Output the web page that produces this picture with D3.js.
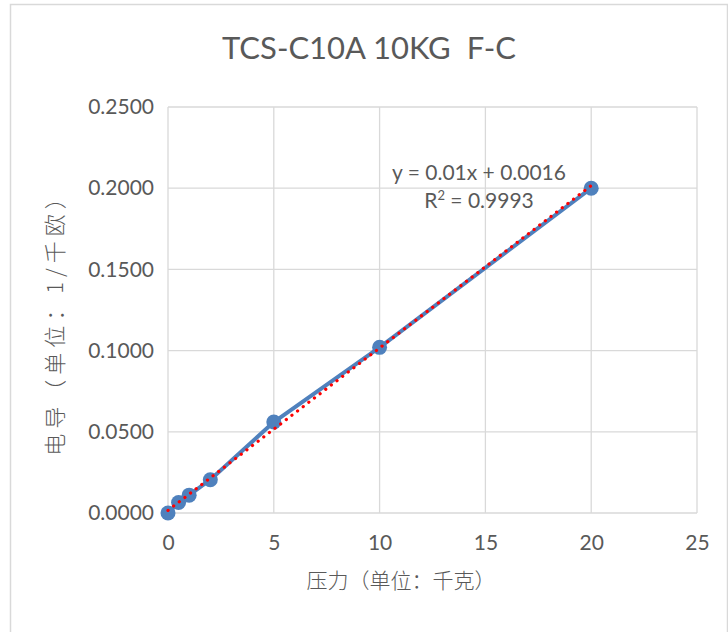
<!DOCTYPE html>
<html><head><meta charset="utf-8">
<script src="https://cdn.jsdelivr.net/npm/d3@7"></script>
<style>
body{margin:0;background:#fff;}
svg{display:block;}
</style></head>
<body>
<svg id="chart" width="728" height="632"></svg>
<script>
const titleText = "TCS-C10A 10KG  F-C";
const xLabel = "压力（单位：千克）";
const yLabel = "电导（单位：1/千欧）";
const pressure = [0, 0.5, 1, 2, 5, 10, 20];
const conductance = [0.0000, 0.0065, 0.0110, 0.0205, 0.0560, 0.1020, 0.2000];
const xTicks = [0, 5, 10, 15, 20, 25];
const yTicks = [0, 0.05, 0.10, 0.15, 0.20, 0.25];
const trendSlope = 0.01;
const trendIntercept = 0.0016;
const eqText = "y = 0.01x + 0.0016";
const r2Value = "0.9993";

const svg = d3.select("#chart");
const latin = "Lato, 'Open Sans', sans-serif";
const cjk = "'Noto Sans CJK SC', sans-serif";
const textCol = "#595959";

// chart border
svg.append("rect").attr("x",10.5).attr("y",4.5).attr("width",717).attr("height",640)
  .attr("fill","#fff").attr("stroke","#d9d9d9").attr("stroke-width",1.5);

const x = d3.scaleLinear().domain([0,25]).range([168,697]);
const y = d3.scaleLinear().domain([0,0.25]).range([513,107]);

// gridlines
svg.append("g").selectAll("line.h").data(yTicks).join("line")
  .attr("x1",x(0)).attr("x2",x(25)).attr("y1",d=>y(d)).attr("y2",d=>y(d))
  .attr("stroke","#d9d9d9").attr("stroke-width",1.3);
svg.append("g").selectAll("line.v").data(xTicks).join("line")
  .attr("x1",d=>x(d)).attr("x2",d=>x(d)).attr("y1",y(0)).attr("y2",y(0.25))
  .attr("stroke","#d9d9d9").attr("stroke-width",1.3);

// axes (labels only)
const yAxis = d3.axisLeft(y).tickValues(yTicks).tickFormat(d3.format(".4f")).tickSize(0).tickPadding(14);
const gy = svg.append("g").attr("transform",`translate(${x(0)},0)`).call(yAxis);
gy.select(".domain").remove();
gy.selectAll("text").attr("font-family",latin).attr("font-size",21).attr("fill",textCol);

const xAxis = d3.axisBottom(x).tickValues(xTicks).tickFormat(d3.format("d")).tickSize(0).tickPadding(22);
const gx = svg.append("g").attr("transform",`translate(0,${y(0)})`).call(xAxis);
gx.select(".domain").remove();
gx.selectAll("text").attr("font-family",latin).attr("font-size",21).attr("fill",textCol);

// series line
const pts = pressure.map((p,i)=>[p,conductance[i]]);
svg.append("path").datum(pts)
  .attr("d", d3.line().x(d=>x(d[0])).y(d=>y(d[1])))
  .attr("fill","none").attr("stroke","#4f81bd").attr("stroke-width",4).attr("stroke-linejoin","round");

// markers
svg.append("g").selectAll("circle").data(pts).join("circle")
  .attr("cx",d=>x(d[0])).attr("cy",d=>y(d[1])).attr("r",7.5).attr("fill","#4f81bd");

// trendline
const tx = [0, 20];
svg.append("path").datum(tx)
  .attr("d", d3.line().x(d=>x(d)).y(d=>y(trendSlope*d+trendIntercept)))
  .attr("fill","none").attr("stroke","#ff0000").attr("stroke-width",3.2)
  .attr("stroke-linecap","round").attr("stroke-dasharray","0.1 7");

// trend label
svg.append("text").attr("x",479).attr("y",180).attr("text-anchor","middle")
  .attr("font-family",latin).attr("font-size",21).attr("fill",textCol).text(eqText);
const r2 = svg.append("text").attr("x",479).attr("y",208).attr("text-anchor","middle")
  .attr("font-family",latin).attr("font-size",21).attr("fill",textCol);
r2.append("tspan").text("R");
r2.append("tspan").attr("dy",-8).attr("font-size",13).text("2");
r2.append("tspan").attr("dy",8).text(" = " + r2Value);

// title
svg.append("text").attr("x",369).attr("y",59).attr("text-anchor","middle")
  .attr("font-family",latin).attr("font-size",31).attr("fill",textCol)
  .style("white-space","pre").attr("xml:space","preserve").text(titleText);

// axis titles
svg.append("text").attr("x",401).attr("y",588).attr("text-anchor","middle")
  .attr("font-family",cjk).attr("font-size",21).attr("font-weight",300).attr("fill",textCol).text(xLabel);
svg.append("text").attr("transform","translate(63,319) rotate(-90)").attr("text-anchor","middle")
  .attr("font-family",cjk).attr("font-size",22).attr("font-weight",300).attr("letter-spacing",5).attr("fill",textCol).text(yLabel);
</script>
</body></html>
